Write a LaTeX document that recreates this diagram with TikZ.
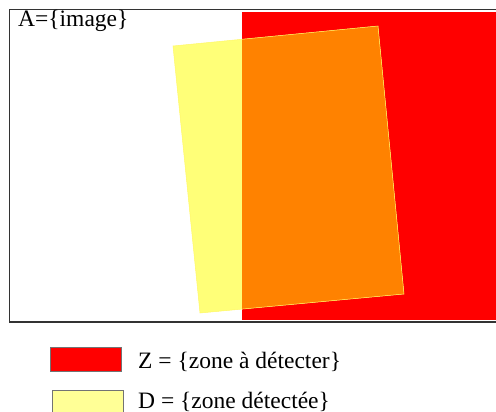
\documentclass[tikz,border=0pt]{standalone}
\usepackage{fontspec}
\setmainfont{Liberation Serif}
\usepackage{tikz}

\definecolor{zonered}{RGB}{255,0,0}
\definecolor{zoneyel}{RGB}{255,255,120}
\definecolor{zoneorg}{RGB}{255,130,0}
\definecolor{legyel}{RGB}{255,255,150}

\begin{document}
\begin{tikzpicture}[x=1pt,y=-1pt,
  frm/.style={draw=black!80, line width=1.2pt},
  keybox/.style={draw=black!55, line width=0.8pt, minimum width=71pt, minimum height=24pt, inner sep=0pt},
  lbl/.style={anchor=base west, inner sep=0pt, font=\fontsize{23.5}{26}\selectfont}]
\useasboundingbox (0,0) rectangle (496,412);
\clip (0,0) rectangle (496,412);
% the image A and the zone Z
\fill[zonered] (242,12.5) rectangle (500,320);
\coordinate (d1) at (173,46);
\coordinate (d2) at (378,26);
\coordinate (d3) at (404,294);
\coordinate (d4) at (200,313);
\fill[zoneyel] (d1) -- (d2) -- (d3) -- (d4) -- cycle;
\begin{scope}
\clip (242,12.5) rectangle (500,320);
\fill[zoneorg] (d1) -- (d2) -- (d3) -- (d4) -- cycle;
\end{scope}
\draw[draw=yellow!60!white, line width=0.5pt] (d1) -- (d2) -- (d3) -- (d4) -- cycle;
\draw[frm] (9.5,9.5) rectangle (520,322);
\node[anchor=base west, inner sep=0pt, font=\fontsize{23.5}{26}\selectfont] (title) at (18,27) {A=\{image\}};
% legend
\node[keybox, fill=zonered, anchor=north west] (legZ) at (50,347) {};
\node[keybox, fill=legyel, anchor=north west] (legD) at (52,390) {};
\node[lbl] (labZ) at (138,368) {Z = \{zone à détecter\}};
\node[lbl] (labD) at (138,408) {D = \{zone détectée\}};
\end{tikzpicture}
\end{document}
